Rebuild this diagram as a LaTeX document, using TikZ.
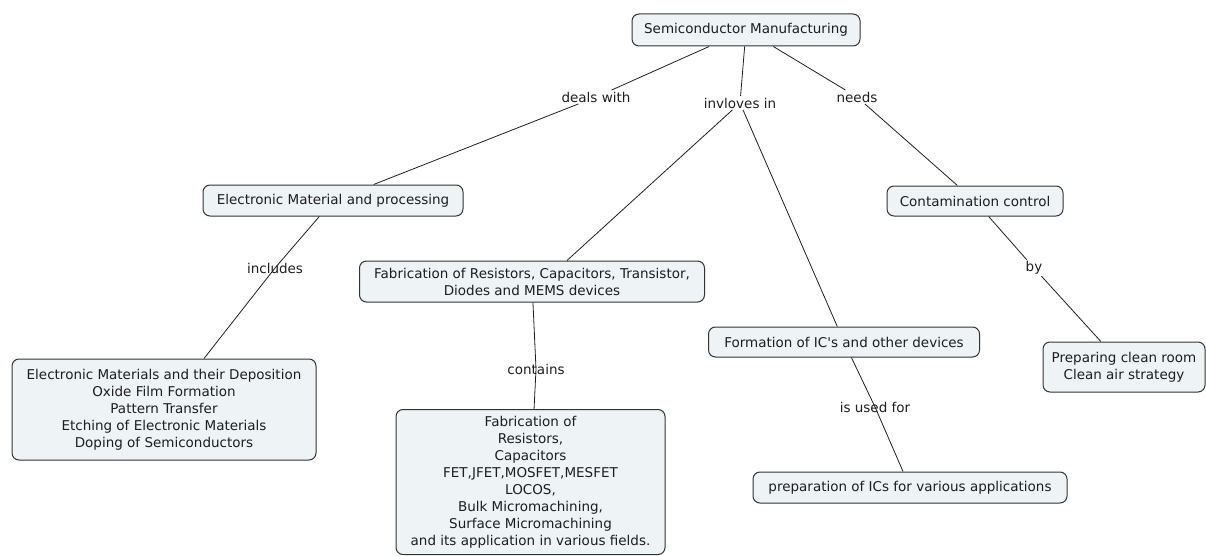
\documentclass[tikz,border=0pt]{standalone}
\usepackage{fontspec}
\setmainfont{DejaVu Sans}
\definecolor{boxfill}{HTML}{EEF3F6}
\definecolor{boxline}{HTML}{333333}
\definecolor{inkdark}{HTML}{1E1E1E}
\begin{document}
\begin{tikzpicture}[x=1pt,y=-1pt, font=\fontsize{13.5}{17}\selectfont, text=inkdark,
	concept/.style={draw=boxline,fill=boxfill,rounded corners=7pt,line width=1pt,align=center,inner sep=0pt},
	linkword/.style={inner sep=1.5pt},
	tie/.style={draw=inkdark,line width=0.8pt}]
	\useasboundingbox (0,0) rectangle (1206,556);
	% concepts
	\node[concept,minimum width=228pt,minimum height=32pt] (semi) at (746,30) {Semiconductor Manufacturing};
	\node[concept,minimum width=260pt,minimum height=31pt] (elec) at (333,200.5) {Electronic Material and processing};
	\node[concept,minimum width=176pt,minimum height=30pt] (cont) at (975,201) {Contamination control};
	\node[concept,minimum width=345pt,minimum height=41pt] (fabdev) at (532,281.5) {Fabrication of Resistors, Capacitors, Transistor,\\Diodes and MEMS devices};
	\node[concept,minimum width=271pt,minimum height=30pt] (formic) at (844,342) {Formation of IC\textquotesingle s and other devices};
	\node[concept,minimum width=162pt,minimum height=50pt] (clean) at (1124,367) {Preparing clean room\\Clean air strategy};
	\node[concept,minimum width=304pt,minimum height=101pt] (elmat) at (164,409.5) {Electronic Materials and their Deposition\\Oxide Film Formation\\Pattern Transfer\\Etching of Electronic Materials\\Doping of Semiconductors};
	\node[concept,minimum width=269pt,minimum height=145pt] (fablist) at (530.5,482) {Fabrication of\\ Resistors,\\ Capacitors\\FET,JFET,MOSFET,MESFET\\LOCOS,\\Bulk Micromachining,\\ Surface Micromachining\\and its application in various fields.};
	\node[concept,minimum width=314pt,minimum height=31pt] (icapp) at (910,487.5) {preparation of ICs for various applications};
	% linking words
	\node[linkword] (deals) at (596,97) {deals with};
	\node[linkword] (invol) at (740,103) {invloves in};
	\node[linkword] (needs) at (857,97) {needs};
	\node[linkword] (incl) at (275,268) {includes};
	\node[linkword] (cnts) at (536,369) {contains};
	\node[linkword] (used) at (875,407) {is used for};
	\node[linkword] (by) at (1034,268) {by};
	% ties
	\draw[tie] (semi) -- (deals) -- (elec);
	\draw[tie] (semi) -- (invol) -- ([xshift=35pt]fabdev.north);
	\draw[tie] (invol) -- (formic);
	\draw[tie] (semi) -- (needs) -- (cont);
	\draw[tie] (cont) -- (by) -- (clean);
	\draw[tie] (elec) -- (incl.center) -- (elmat);
	\draw[tie] (fabdev) -- (cnts.center) -- (fablist);
	\draw[tie] (formic) -- (used.center) -- (icapp);
\end{tikzpicture}
\end{document}
